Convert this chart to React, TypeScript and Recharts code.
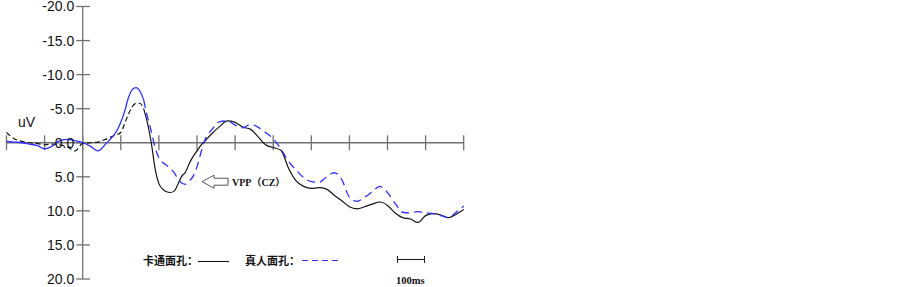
import React from 'react';
import { LineChart, Line, XAxis, YAxis, ReferenceLine } from 'recharts';

// time (ms)
const times = [
  -200, -180, -160, -140, -120, -100, -80, -60, -40, -20, 0, 20, 40, 60, 80, 90, 100, 110, 120, 130, 140,
  150, 160, 170, 180, 190, 200, 210, 220, 230, 240, 250, 260, 270, 280, 290, 300, 310, 320, 340, 360, 380,
  400, 420, 440, 460, 480, 500, 520, 540, 560, 580, 600, 620, 640, 660, 680, 700, 720, 740, 760, 780, 800,
  820, 840, 860, 880, 900, 920, 940, 960, 980, 1000,
];

// 卡通面孔 (uV)
const cartoon = [
  -1.5, -0.6, -0.2, 0.0, 0.1, 0.3, 0.2, 0.3, 0.6, 1.2, 0.1, 0.0, -0.1, -0.5, -1.0, -1.2, -1.5, -2.8, -4.2, -5.3, -5.8,
  -5.8, -5.0, -2.9, 0.0, 3.8, 6.0, 6.8, 7.2, 7.3, 7.1, 6.1, 4.9, 4.3, 3.0, 2.0, 1.2, 0.4, -0.2, -1.4, -2.4, -3.2,
  -3.0, -2.3, -2.0, -0.9, 0.3, 0.7, 1.1, 3.7, 5.6, 6.4, 6.7, 6.6, 6.8, 7.7, 8.5, 9.4, 9.7, 9.4, 9.0, 8.7, 9.2,
  10.3, 11.0, 11.2, 11.7, 10.7, 10.4, 10.6, 11.0, 10.5, 9.8,
];

// 真人面孔 (uV)
const real = [
  -0.2, -0.1, 0.0, 0.2, 0.4, 0.9, 0.5, -0.3, -0.5, -0.3, 0.0, 0.5, 1.2, 0.2, -1.0, -1.8, -3.0, -4.6, -6.6, -7.8, -8.1,
  -7.6, -6.3, -3.8, -1.7, 0.7, 2.2, 2.9, 3.3, 3.8, 4.4, 5.3, 5.9, 6.1, 5.6, 4.9, 3.5, 1.5, -0.3, -2.0, -3.1, -3.2,
  -2.6, -2.2, -2.7, -2.3, -1.5, -0.6, 0.9, 2.7, 4.0, 5.1, 5.7, 5.8, 5.0, 4.4, 5.4, 8.0, 8.6, 8.0, 7.2, 6.4, 7.3,
  8.9, 10.2, 10.3, 10.1, 10.3, 10.4, 10.7, 11.0, 10.2, 9.3,
];

const yTicks = [-20, -15, -10, -5, 0, 5, 10, 15, 20];
const yTickLabels = ['-20.0', '-15.0', '-10.0', '-5.0', '0.0', '5.0', '10.0', '15.0', '20.0'];
const xTicks = [-200, -100, 0, 100, 200, 300, 400, 500, 600, 700, 800, 900, 1000];

const SPLIT = 160;

const data = times.map((t, i) => ({
  t,
  cEarly: t <= SPLIT ? cartoon[i] : null,
  cLate: t >= SPLIT ? cartoon[i] : null,
  rEarly: t <= SPLIT ? real[i] : null,
  rLate: t >= SPLIT ? real[i] : null,
}));

const AXIS = '#707070';
const BLUE = '#2f2fff';
const BLACK = '#151515';

export default function App() {
  return (
    <div style={{ position: 'absolute', left: 0, top: 0, width: 903, height: 287, background: '#fff' }}>
      <LineChart
        width={903}
        height={287}
        data={data}
        margin={{ top: 6.5, right: 439.3, bottom: 8, left: 6.5 }}
      >
        <XAxis dataKey="t" type="number" domain={[-200, 1000]} hide />
        <YAxis type="number" domain={[-20, 20]} reversed hide />
        <ReferenceLine x={0} stroke={AXIS} strokeWidth={1.3} />
        <ReferenceLine y={0} stroke={AXIS} strokeWidth={1.3} />
        {yTicks.map((v, i) => (
          <ReferenceLine
            key={'y' + v}
            segment={[{ x: -17, y: v }, { x: 19, y: v }]}
            stroke={AXIS}
            strokeWidth={1.3}
            label={{
              value: yTickLabels[i],
              position: 'left',
              offset: 2,
              fill: '#111',
              fontSize: 14,
              fontFamily: 'Liberation Sans, Arial, sans-serif',
            }}
          />
        ))}
        {xTicks.map((t) => (
          <ReferenceLine
            key={'x' + t}
            segment={[{ x: t, y: -1.1 }, { x: t, y: 1.1 }]}
            stroke={AXIS}
            strokeWidth={1.3}
          />
        ))}
        <Line dataKey="cEarly" type="monotone" stroke={BLACK} strokeWidth={1.2} strokeDasharray="5 3" dot={false} isAnimationActive={false} connectNulls={false} />
        <Line dataKey="rEarly" type="monotone" stroke={BLUE} strokeWidth={1.3} dot={false} isAnimationActive={false} connectNulls={false} />
        <Line dataKey="cLate" type="monotone" stroke={BLACK} strokeWidth={1.2} dot={false} isAnimationActive={false} connectNulls={false} />
        <Line dataKey="rLate" type="monotone" stroke={BLUE} strokeWidth={1.3} strokeDasharray="8 5" dot={false} isAnimationActive={false} connectNulls={false} />
      </LineChart>
      <svg width={903} height={287} style={{ position: 'absolute', left: 0, top: 0, pointerEvents: 'none' }}>
        <text x={18} y={127} fontSize={14} fontFamily="Liberation Sans, Arial, sans-serif" fill="#111">uV</text>
        <path d="M202,181.7 L214,175.2 L214,178.2 L228,178.2 L228,185.2 L214,185.2 L214,188.2 Z" fill="#fff" stroke="#555" strokeWidth={1} />
        <text x={232} y={185.5} fontSize={10} fontWeight="bold" fontFamily="Liberation Serif, Noto Sans CJK SC, serif" fill="#111">VPP（CZ）</text>
        <text x={143} y={265} fontSize={11} fontWeight="bold" fontFamily="Noto Sans CJK SC, sans-serif" fill="#111">卡通面孔：</text>
        <line x1={198} y1={261.5} x2={229} y2={261.5} stroke={BLACK} strokeWidth={1.1} />
        <text x={245} y={265} fontSize={11} fontWeight="bold" fontFamily="Noto Sans CJK SC, sans-serif" fill="#111">真人面孔：</text>
        <line x1={302} y1={260.5} x2={340} y2={260.5} stroke={BLUE} strokeWidth={1.1} strokeDasharray="6 4" />
        <line x1={397} y1={259.5} x2={425} y2={259.5} stroke="#222" strokeWidth={1.1} />
        <line x1={397.5} y1={256} x2={397.5} y2={263} stroke="#222" strokeWidth={1} />
        <line x1={424.5} y1={256} x2={424.5} y2={263} stroke="#222" strokeWidth={1} />
        <text x={396} y={284} fontSize={10.5} fontWeight="bold" fontFamily="Liberation Serif, serif" fill="#111">100ms</text>
      </svg>
    </div>
  );
}
